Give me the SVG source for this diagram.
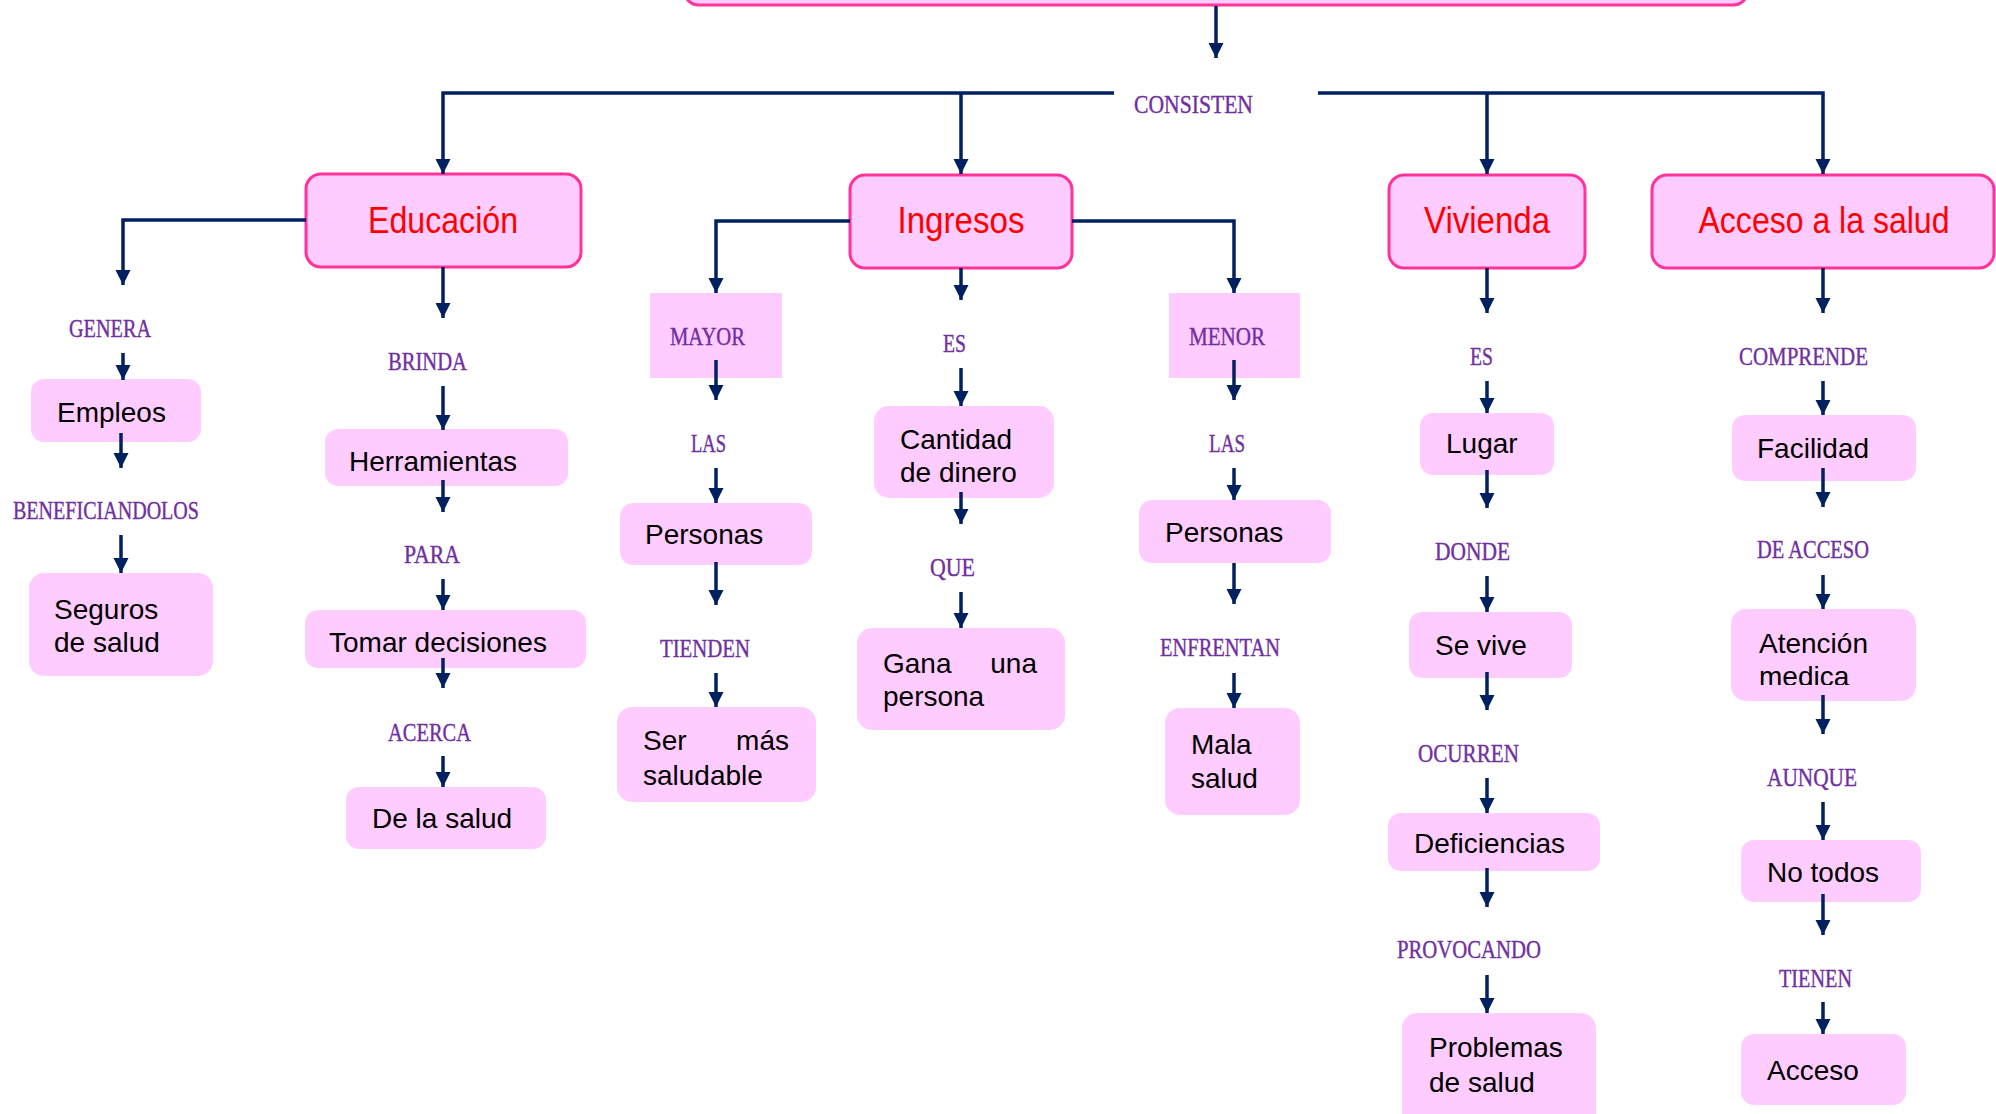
<svg xmlns="http://www.w3.org/2000/svg" width="1996" height="1114" viewBox="0 0 1996 1114">
<style>
.m{fill:#FFCCFF;stroke:#FF3399;stroke-width:3}
.b{fill:#FFCCFF}
.mt{font-family:"Liberation Sans",Arial,sans-serif;font-size:37px;fill:#FF0000;text-anchor:middle}
.t{font-family:"Liberation Sans",Arial,sans-serif;font-size:28px;fill:#000}
.e{text-anchor:end}
.l{font-family:"Liberation Serif","Times New Roman",serif;font-size:26px;fill:#7030A0;stroke:#7030A0;stroke-width:0.4}
.c{fill:none;stroke:#002060;stroke-width:3.5;marker-end:url(#ah)}
</style>
<defs>
<marker id="ah" markerUnits="userSpaceOnUse" markerWidth="16" markerHeight="16" viewBox="0 -8 15 16" refX="15" refY="0" orient="auto">
<path d="M0,-7.5 L15,0 L0,7.5 z" fill="#002060"/>
</marker>
<clipPath id="clipCant"><rect x="873" y="406" width="181" height="76"/></clipPath>
<clipPath id="clipAten"><rect x="1731" y="609" width="185" height="76"/></clipPath>
</defs>
<rect width="1996" height="1114" fill="#fff"/>

<g id="top"><rect class="m" x="684" y="-60" width="1064" height="65" rx="15"/></g>

<g id="educacion"><rect class="m" x="306" y="174" width="275" height="93" rx="15"/><text class="mt" x="443" y="233" textLength="150" lengthAdjust="spacingAndGlyphs">Educación</text></g>
<g id="ingresos"><rect class="m" x="850" y="175" width="222" height="93" rx="15"/><text class="mt" x="961" y="233" textLength="127" lengthAdjust="spacingAndGlyphs">Ingresos</text></g>
<g id="vivienda"><rect class="m" x="1389" y="175" width="196" height="93" rx="15"/><text class="mt" x="1487" y="233" textLength="126" lengthAdjust="spacingAndGlyphs">Vivienda</text></g>
<g id="acceso-salud"><rect class="m" x="1652" y="175" width="342" height="93" rx="15"/><text class="mt" x="1824" y="233" textLength="251" lengthAdjust="spacingAndGlyphs">Acceso a la salud</text></g>

<g id="lbl-consisten"><text class="l" x="1134" y="113" textLength="119" lengthAdjust="spacingAndGlyphs">CONSISTEN</text></g>

<g id="lbl-genera"><text class="l" x="69" y="337" textLength="82" lengthAdjust="spacingAndGlyphs">GENERA</text></g>
<g id="empleos"><rect class="b" x="31" y="379" width="170" height="63" rx="13"/><text class="t" x="57" y="422">Empleos</text></g>
<g id="lbl-beneficiandolos"><text class="l" x="13" y="519" textLength="186" lengthAdjust="spacingAndGlyphs">BENEFICIANDOLOS</text></g>
<g id="seguros"><rect class="b" x="29" y="573" width="184" height="103" rx="15"/><text class="t" x="54" y="619">Seguros</text><text class="t" x="54" y="652">de salud</text></g>

<g id="lbl-brinda"><text class="l" x="388" y="370" textLength="79" lengthAdjust="spacingAndGlyphs">BRINDA</text></g>
<g id="herramientas"><rect class="b" x="325" y="429" width="243" height="57" rx="13"/><text class="t" x="349" y="471">Herramientas</text></g>
<g id="lbl-para"><text class="l" x="404" y="563" textLength="56" lengthAdjust="spacingAndGlyphs">PARA</text></g>
<g id="tomar"><rect class="b" x="305" y="610" width="281" height="58" rx="13"/><text class="t" x="329" y="652">Tomar decisiones</text></g>
<g id="lbl-acerca"><text class="l" x="388" y="741" textLength="83" lengthAdjust="spacingAndGlyphs">ACERCA</text></g>
<g id="delasalud"><rect class="b" x="346" y="787" width="200" height="62" rx="13"/><text class="t" x="372" y="828">De la salud</text></g>

<g id="mayor"><rect class="b" x="650" y="293" width="132" height="85"/><text class="l" x="670" y="345" textLength="75" lengthAdjust="spacingAndGlyphs">MAYOR</text></g>
<g id="lbl-las1"><text class="l" x="691" y="452" textLength="35" lengthAdjust="spacingAndGlyphs">LAS</text></g>
<g id="personas1"><rect class="b" x="620" y="503" width="192" height="62" rx="13"/><text class="t" x="645" y="544">Personas</text></g>
<g id="lbl-tienden"><text class="l" x="660" y="657" textLength="90" lengthAdjust="spacingAndGlyphs">TIENDEN</text></g>
<g id="ser"><rect class="b" x="617" y="707" width="199" height="95" rx="15"/><text class="t" x="643" y="750">Ser</text><text class="t e" x="789" y="750">más</text><text class="t" x="643" y="785">saludable</text></g>

<g id="lbl-es1"><text class="l" x="943" y="352" textLength="23" lengthAdjust="spacingAndGlyphs">ES</text></g>
<g id="cantidad"><rect class="b" x="874" y="406" width="180" height="92" rx="15"/><g clip-path="url(#clipCant)"><text class="t" x="900" y="449">Cantidad</text><text class="t" x="900" y="482">de dinero</text></g></g>
<g id="lbl-que"><text class="l" x="930" y="576" textLength="45" lengthAdjust="spacingAndGlyphs">QUE</text></g>
<g id="gana"><rect class="b" x="857" y="628" width="208" height="102" rx="15"/><text class="t" x="883" y="673">Gana</text><text class="t e" x="1037" y="673">una</text><text class="t" x="883" y="706">persona</text></g>

<g id="menor"><rect class="b" x="1169" y="293" width="131" height="85"/><text class="l" x="1189" y="345" textLength="76" lengthAdjust="spacingAndGlyphs">MENOR</text></g>
<g id="lbl-las2"><text class="l" x="1209" y="452" textLength="36" lengthAdjust="spacingAndGlyphs">LAS</text></g>
<g id="personas2"><rect class="b" x="1139" y="500" width="192" height="63" rx="13"/><text class="t" x="1165" y="542">Personas</text></g>
<g id="lbl-enfrentan"><text class="l" x="1160" y="656" textLength="120" lengthAdjust="spacingAndGlyphs">ENFRENTAN</text></g>
<g id="mala"><rect class="b" x="1165" y="708" width="135" height="107" rx="15"/><text class="t" x="1191" y="754">Mala</text><text class="t" x="1191" y="788">salud</text></g>

<g id="lbl-es2"><text class="l" x="1470" y="365" textLength="23" lengthAdjust="spacingAndGlyphs">ES</text></g>
<g id="lugar"><rect class="b" x="1420" y="413" width="134" height="62" rx="13"/><text class="t" x="1446" y="453">Lugar</text></g>
<g id="lbl-donde"><text class="l" x="1435" y="560" textLength="75" lengthAdjust="spacingAndGlyphs">DONDE</text></g>
<g id="sevive"><rect class="b" x="1409" y="612" width="163" height="66" rx="13"/><text class="t" x="1435" y="655">Se vive</text></g>
<g id="lbl-ocurren"><text class="l" x="1418" y="762" textLength="101" lengthAdjust="spacingAndGlyphs">OCURREN</text></g>
<g id="deficiencias"><rect class="b" x="1388" y="813" width="212" height="58" rx="13"/><text class="t" x="1414" y="853">Deficiencias</text></g>
<g id="lbl-provocando"><text class="l" x="1397" y="958" textLength="144" lengthAdjust="spacingAndGlyphs">PROVOCANDO</text></g>
<g id="problemas"><rect class="b" x="1402" y="1013" width="194" height="130" rx="15"/><text class="t" x="1429" y="1057">Problemas</text><text class="t" x="1429" y="1092">de salud</text></g>

<g id="lbl-comprende"><text class="l" x="1739" y="365" textLength="129" lengthAdjust="spacingAndGlyphs">COMPRENDE</text></g>
<g id="facilidad"><rect class="b" x="1732" y="415" width="184" height="66" rx="13"/><text class="t" x="1757" y="458">Facilidad</text></g>
<g id="lbl-deacceso"><text class="l" x="1757" y="558" textLength="112" lengthAdjust="spacingAndGlyphs">DE ACCESO</text></g>
<g id="atencion"><rect class="b" x="1731" y="609" width="185" height="92" rx="15"/><g clip-path="url(#clipAten)"><text class="t" x="1759" y="653">Atención</text><text class="t" x="1759" y="686">medica</text></g></g>
<g id="lbl-aunque"><text class="l" x="1767" y="786" textLength="90" lengthAdjust="spacingAndGlyphs">AUNQUE</text></g>
<g id="notodos"><rect class="b" x="1741" y="840" width="180" height="62" rx="13"/><text class="t" x="1767" y="882">No todos</text></g>
<g id="lbl-tienen"><text class="l" x="1779" y="987" textLength="73" lengthAdjust="spacingAndGlyphs">TIENEN</text></g>
<g id="acceso"><rect class="b" x="1741" y="1034" width="165" height="71" rx="13"/><text class="t" x="1767" y="1080">Acceso</text></g>

<g id="connectors">
<path class="c" d="M1216,6 V58"/>
<path class="c" d="M1114,93 H443 V174"/>
<path class="c" d="M961,93 V174"/>
<path class="c" d="M1318,93 H1823 V174"/>
<path class="c" d="M1487,93 V174"/>

<path class="c" d="M306,220 H123 V285"/>
<path class="c" d="M123,353 V380"/>
<path class="c" d="M121,433 V468"/>
<path class="c" d="M121,535 V573"/>
<path class="c" d="M443,267 V318"/>
<path class="c" d="M443,386 V430"/>
<path class="c" d="M443,480 V512"/>
<path class="c" d="M443,579 V610"/>
<path class="c" d="M443,658 V688"/>
<path class="c" d="M443,756 V787"/>

<path class="c" d="M850,221 H716 V293"/>
<path class="c" d="M716,360 V400"/>
<path class="c" d="M716,468 V503"/>
<path class="c" d="M716,562 V605"/>
<path class="c" d="M716,673 V707"/>
<path class="c" d="M961,268 V300"/>
<path class="c" d="M961,368 V406"/>
<path class="c" d="M961,492 V524"/>
<path class="c" d="M961,592 V628"/>
<path class="c" d="M1072,221 H1234 V293"/>
<path class="c" d="M1234,360 V400"/>
<path class="c" d="M1234,468 V500"/>
<path class="c" d="M1234,563 V604"/>
<path class="c" d="M1234,673 V708"/>

<path class="c" d="M1487,268 V313"/>
<path class="c" d="M1487,381 V413"/>
<path class="c" d="M1487,470 V508"/>
<path class="c" d="M1487,576 V612"/>
<path class="c" d="M1487,672 V710"/>
<path class="c" d="M1487,778 V813"/>
<path class="c" d="M1487,868 V907"/>
<path class="c" d="M1487,975 V1013"/>

<path class="c" d="M1823,268 V313"/>
<path class="c" d="M1823,381 V415"/>
<path class="c" d="M1823,468 V507"/>
<path class="c" d="M1823,575 V609"/>
<path class="c" d="M1823,695 V734"/>
<path class="c" d="M1823,802 V840"/>
<path class="c" d="M1823,894 V935"/>
<path class="c" d="M1823,1002 V1034"/>
</g>
</svg>
